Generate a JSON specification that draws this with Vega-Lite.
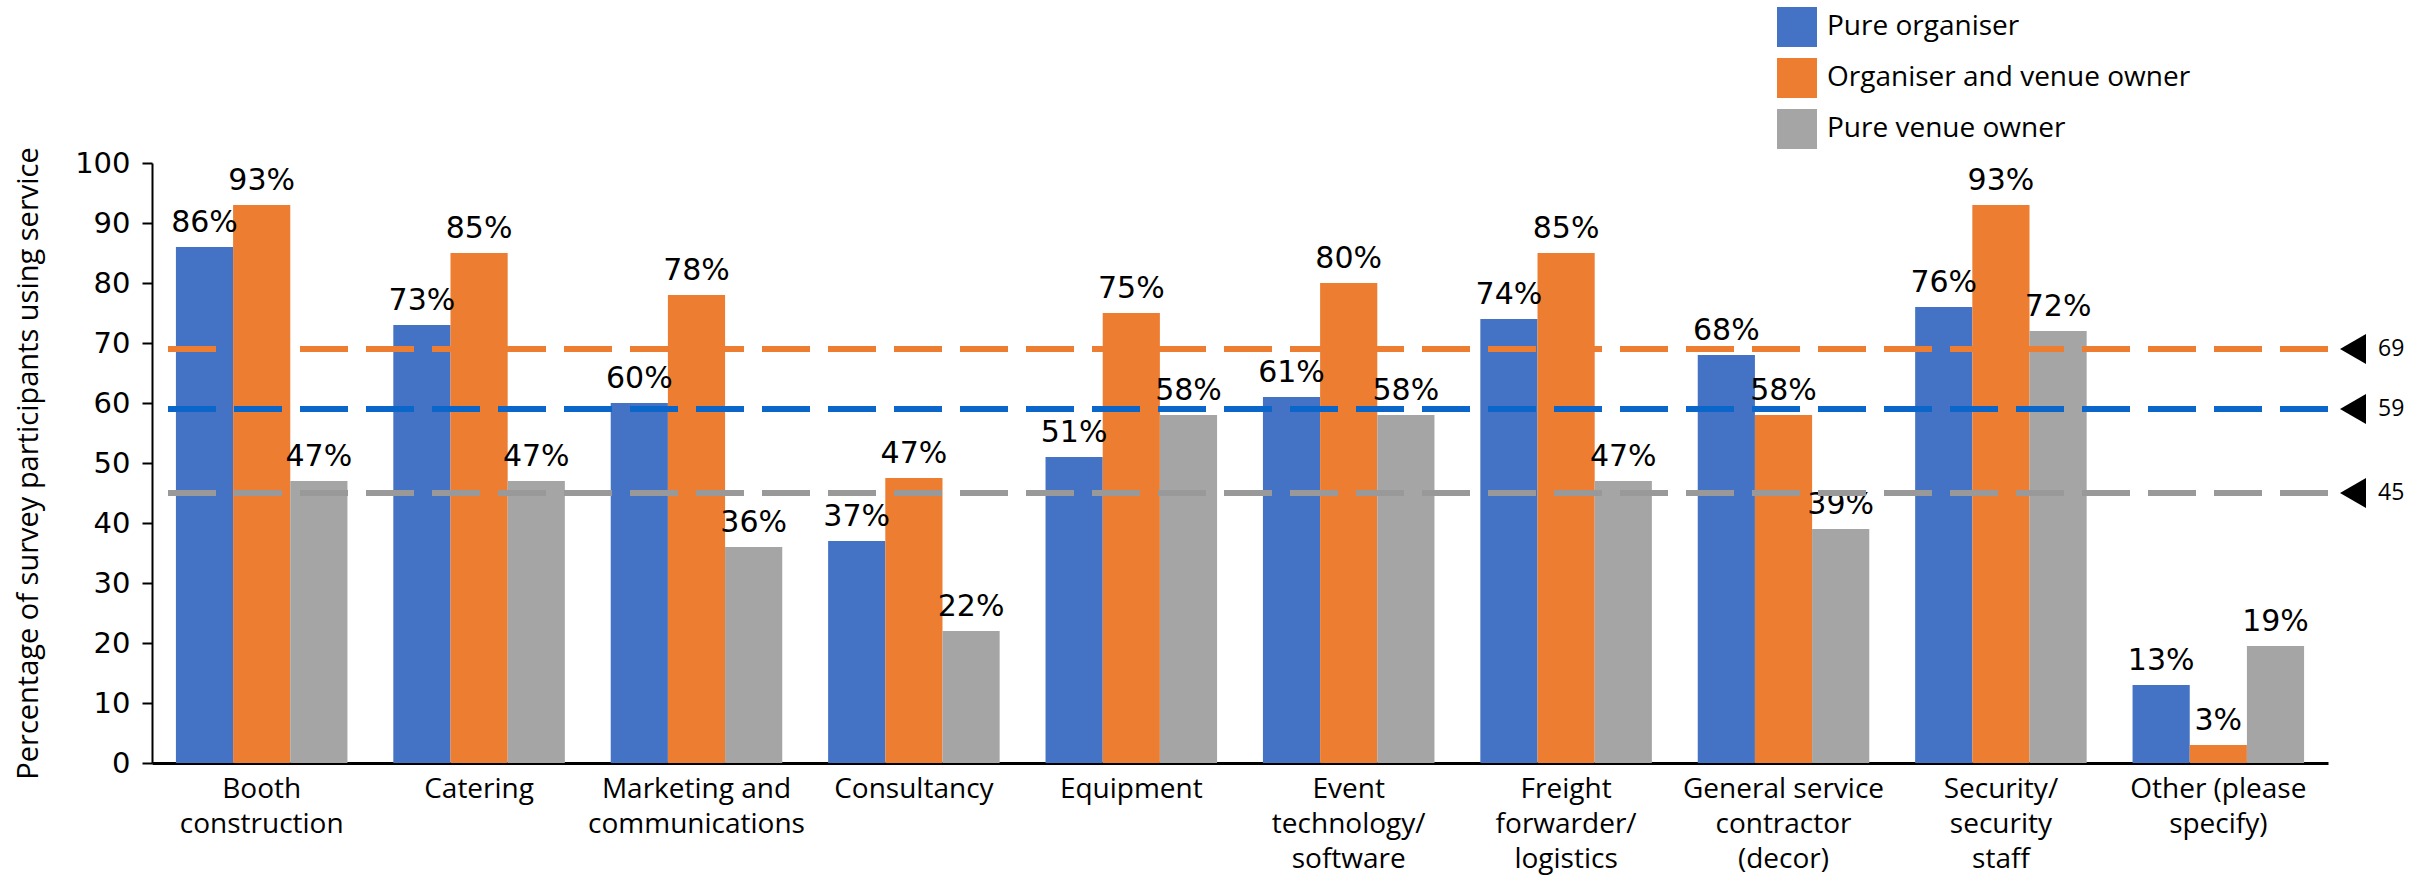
{
  "$schema": "https://vega.github.io/schema/vega-lite/v6.json",
  "width": 2176,
  "height": 600,
  "autosize": {"type": "none"},
  "padding": {"left": 152, "top": 163, "right": 97, "bottom": 114},
  "background": "white",
  "config": {"view": {"stroke": null}, "font": "Open Sans"},
  "datasets": {
    "bars": [
      {"service": "Booth|construction", "group": "Pure organiser", "value": 86, "label": "86%"},
      {"service": "Booth|construction", "group": "Organiser and venue owner", "value": 93, "label": "93%"},
      {"service": "Booth|construction", "group": "Pure venue owner", "value": 47, "label": "47%"},
      {"service": "Catering", "group": "Pure organiser", "value": 73, "label": "73%"},
      {"service": "Catering", "group": "Organiser and venue owner", "value": 85, "label": "85%"},
      {"service": "Catering", "group": "Pure venue owner", "value": 47, "label": "47%"},
      {"service": "Marketing and|communications", "group": "Pure organiser", "value": 60, "label": "60%"},
      {"service": "Marketing and|communications", "group": "Organiser and venue owner", "value": 78, "label": "78%"},
      {"service": "Marketing and|communications", "group": "Pure venue owner", "value": 36, "label": "36%"},
      {"service": "Consultancy", "group": "Pure organiser", "value": 37, "label": "37%"},
      {"service": "Consultancy", "group": "Organiser and venue owner", "value": 47.5, "label": "47%"},
      {"service": "Consultancy", "group": "Pure venue owner", "value": 22, "label": "22%"},
      {"service": "Equipment", "group": "Pure organiser", "value": 51, "label": "51%"},
      {"service": "Equipment", "group": "Organiser and venue owner", "value": 75, "label": "75%"},
      {"service": "Equipment", "group": "Pure venue owner", "value": 58, "label": "58%"},
      {"service": "Event|technology/|software", "group": "Pure organiser", "value": 61, "label": "61%"},
      {"service": "Event|technology/|software", "group": "Organiser and venue owner", "value": 80, "label": "80%"},
      {"service": "Event|technology/|software", "group": "Pure venue owner", "value": 58, "label": "58%"},
      {"service": "Freight|forwarder/|logistics", "group": "Pure organiser", "value": 74, "label": "74%"},
      {"service": "Freight|forwarder/|logistics", "group": "Organiser and venue owner", "value": 85, "label": "85%"},
      {"service": "Freight|forwarder/|logistics", "group": "Pure venue owner", "value": 47, "label": "47%"},
      {"service": "General service|contractor|(decor)", "group": "Pure organiser", "value": 68, "label": "68%"},
      {"service": "General service|contractor|(decor)", "group": "Organiser and venue owner", "value": 58, "label": "58%"},
      {"service": "General service|contractor|(decor)", "group": "Pure venue owner", "value": 39, "label": "39%"},
      {"service": "Security/|security|staff", "group": "Pure organiser", "value": 76, "label": "76%"},
      {"service": "Security/|security|staff", "group": "Organiser and venue owner", "value": 93, "label": "93%"},
      {"service": "Security/|security|staff", "group": "Pure venue owner", "value": 72, "label": "72%"},
      {"service": "Other (please|specify)", "group": "Pure organiser", "value": 13, "label": "13%"},
      {"service": "Other (please|specify)", "group": "Organiser and venue owner", "value": 3, "label": "3%"},
      {"service": "Other (please|specify)", "group": "Pure venue owner", "value": 19.5, "label": "19%"}
    ],
    "avg": [
      {"group": "Organiser and venue owner", "avg": 69},
      {"group": "Pure organiser", "avg": 59},
      {"group": "Pure venue owner", "avg": 45}
    ]
  },
  "layer": [
    {
      "data": {"name": "bars"},
      "mark": {"type": "bar"},
      "encoding": {
        "x": {
          "field": "service", "type": "nominal", "sort": null,
          "scale": {"paddingInner": 0.211, "paddingOuter": 0.11},
          "axis": {
            "title": null, "labelAngle": 0, "ticks": false,
            "domainColor": "black", "domainWidth": 3,
            "labelFont": "Open Sans", "labelFontSize": 28, "labelColor": "black",
            "labelPadding": 12, "labelLineHeight": 35, "labelBaseline": "top",
            "labelExpr": "split(datum.label, '|')", "labelLimit": 0
          }
        },
        "xOffset": {
          "field": "group", "type": "nominal",
          "sort": ["Pure organiser", "Organiser and venue owner", "Pure venue owner"]
        },
        "y": {
          "field": "value", "type": "quantitative",
          "scale": {"domain": [0, 100]},
          "axis": {
            "values": [0, 10, 20, 30, 40, 50, 60, 70, 80, 90, 100],
            "grid": false,
            "title": "Percentage of survey participants using service",
            "titleFont": "Open Sans", "titleFontSize": 29, "titleFontWeight": "normal",
            "titleColor": "black", "titleX": -124, "titleY": 300, "titleAngle": -90,
            "titleAlign": "center", "titleBaseline": "middle",
            "tickSize": 10, "tickColor": "black", "tickWidth": 2,
            "domainColor": "black", "domainWidth": 2,
            "labelFont": "DejaVu Sans", "labelFontSize": 29, "labelColor": "black", "labelPadding": 12
          }
        },
        "color": {
          "field": "group", "type": "nominal",
          "scale": {
            "domain": ["Pure organiser", "Organiser and venue owner", "Pure venue owner"],
            "range": ["#4472C4", "#ED7D31", "#A5A5A5"]
          },
          "legend": {
            "title": null, "orient": "none", "legendX": 1625, "legendY": -156,
            "symbolType": "square", "symbolSize": 1600, "symbolStrokeWidth": 0, "symbolOpacity": 1,
            "labelFont": "Open Sans", "labelFontSize": 28, "labelColor": "black",
            "rowPadding": 11, "labelOffset": 10, "labelLimit": 0
          }
        }
      }
    },
    {
      "data": {"name": "bars"},
      "mark": {"type": "text", "baseline": "alphabetic", "dy": -15, "font": "DejaVu Sans", "fontSize": 30, "color": "black"},
      "encoding": {
        "x": {"field": "service", "type": "nominal", "sort": null},
        "xOffset": {"field": "group", "type": "nominal", "sort": ["Pure organiser", "Organiser and venue owner", "Pure venue owner"]},
        "y": {"field": "value", "type": "quantitative"},
        "text": {"field": "label"}
      }
    },
    {
      "data": {"name": "avg"},
      "mark": {"type": "rule", "strokeWidth": 6, "strokeDash": [48, 18]},
      "encoding": {
        "y": {"field": "avg", "type": "quantitative"},
        "color": {
          "field": "group", "type": "nominal",
          "scale": {
            "domain": ["Pure organiser", "Organiser and venue owner", "Pure venue owner"],
            "range": ["#0A66C8", "#ED7D31", "#999999"]
          },
          "legend": null
        }
      }
    },
    {
      "data": {"name": "avg"},
      "mark": {"type": "point", "shape": "triangle-left", "filled": true, "color": "black", "opacity": 1, "size": 900, "xOffset": 25},
      "encoding": {
        "x": {"value": "width"},
        "y": {"field": "avg", "type": "quantitative"}
      }
    },
    {
      "data": {"name": "avg"},
      "mark": {"type": "text", "align": "left", "baseline": "middle", "dx": 50, "font": "Open Sans", "fontSize": 23, "color": "black"},
      "encoding": {
        "x": {"value": "width"},
        "y": {"field": "avg", "type": "quantitative"},
        "text": {"field": "avg", "type": "quantitative"}
      }
    }
  ],
  "resolve": {"scale": {"color": "independent"}}
}
